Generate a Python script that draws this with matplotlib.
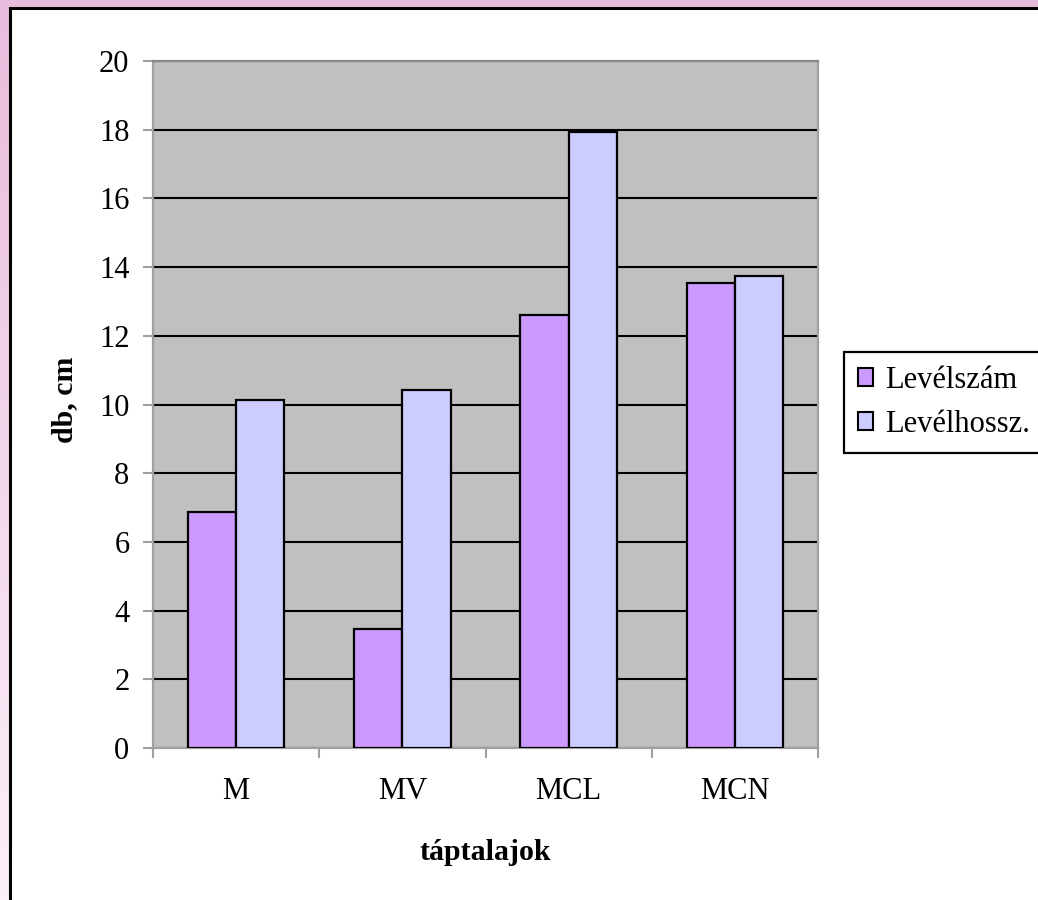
import matplotlib
matplotlib.use("Agg")
import matplotlib.pyplot as plt
import numpy as np
from matplotlib.patches import Rectangle, Patch

categories = ["M", "MV", "MCL", "MCN"]
levelszam = [6.87, 3.46, 12.60, 13.54]
levelhossz = [10.12, 10.42, 17.92, 13.75]
series_names = ["Levélszám", "Levélhossz."]
yticks = [0, 2, 4, 6, 8, 10, 12, 14, 16, 18, 20]

plt.rcParams['font.family'] = ['Liberation Serif', 'DejaVu Serif']

W, H = 1038, 900
fig = plt.figure(figsize=(W / 100, H / 100), dpi=100)

# pink gradient background
bg = fig.add_axes([0, 0, 1, 1], zorder=-10)
top = np.array([232, 187, 220]) / 255
bot = np.array([252, 240, 248]) / 255
t = np.linspace(0, 1, 256)[:, None]
grad = top[None, :] * (1 - t) + bot[None, :] * t
bg.imshow(grad[:, None, :], aspect='auto', extent=[0, 1, 0, 1], origin='upper')
bg.add_patch(Rectangle((10 / W, -0.1), 1.2, (H - 8) / H + 0.1, transform=bg.transAxes,
                       facecolor='white', edgecolor='black', linewidth=2.2))
bg.set_xlim(0, 1)
bg.set_ylim(0, 1)
bg.axis('off')

ax = fig.add_axes([153 / W, (H - 748) / H, 665 / W, 687 / H])
ax.set_facecolor('#C0C0C0')
x = np.arange(len(categories))
bw = 0.29
ax.bar(x - bw / 2, levelszam, bw, color='#CC99FF', edgecolor='black', linewidth=1.6,
       label=series_names[0], zorder=3)
ax.bar(x + bw / 2, levelhossz, bw, color='#CCCCFF', edgecolor='black', linewidth=1.6,
       label=series_names[1], zorder=3)

ax.set_xlim(-0.5, len(categories) - 0.5)
ax.set_ylim(0, 20)
ax.set_yticks(yticks)
ax.yaxis.grid(True, color='black', linewidth=1.5, zorder=1)
ax.set_axisbelow(True)

for s in ax.spines.values():
    s.set_color('#A0A0A0')
    s.set_linewidth(1.6)
ax.spines['top'].set_color('#888888')

ax.set_xticks(x)
ax.set_xticklabels(categories)
ax.set_xticks(np.arange(-0.5, len(categories)), minor=True)
ax.tick_params(axis='x', which='major', length=0, pad=21, labelsize=22)
ax.tick_params(axis='x', which='minor', length=7, width=1.5, color='#A0A0A0', direction='out')
ax.tick_params(axis='y', which='major', length=7, width=1.5, color='#A0A0A0', pad=10, labelsize=22)

ax.set_xlabel("táptalajok", fontsize=21.5, fontweight='bold', va='center')
ax.xaxis.set_label_coords(0.5, (748 - 853) / 687)
ax.set_ylabel("db, cm", fontsize=21.5, fontweight='bold', va='center')
ax.yaxis.set_label_coords((65 - 153) / 665, (748 - 400) / 687)

handles = [Patch(facecolor='#CC99FF', edgecolor='black', linewidth=1.5),
           Patch(facecolor='#CCCCFF', edgecolor='black', linewidth=1.5)]
leg = fig.legend(handles, series_names, loc='upper left',
                 bbox_to_anchor=(844 / W, 1 - 352 / H), fontsize=22,
                 frameon=True, fancybox=False, edgecolor='black', framealpha=1,
                 handlelength=0.5, handleheight=0.5, handletextpad=0.4,
                 borderpad=0.45, labelspacing=0.5, borderaxespad=0)
leg.get_frame().set_linewidth(1.6)

fig.savefig("out.png", dpi=100)
